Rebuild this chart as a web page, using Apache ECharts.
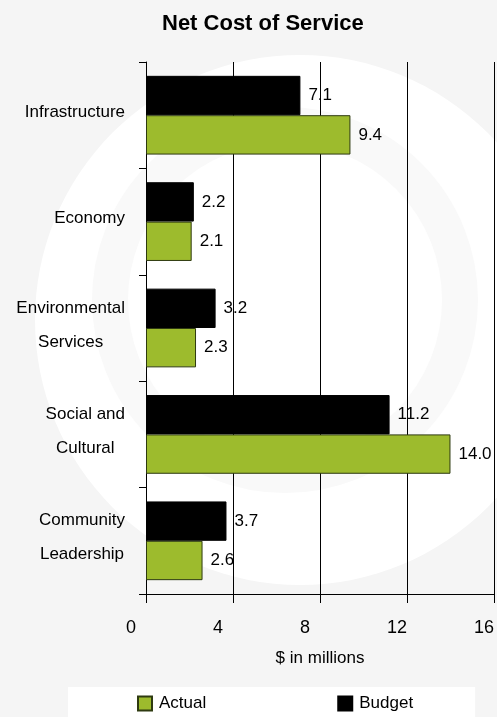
<!DOCTYPE html>
<html>
<head>
<meta charset="utf-8">
<script src="https://cdn.jsdelivr.net/npm/echarts@6/dist/echarts.min.js"></script>
<style>
  html, body { margin: 0; padding: 0; background: #f5f5f5; }
  #chart { width: 497px; height: 717px; }
</style>
</head>
<body>
<div id="chart"></div>
<script>
// Net cost of service by program area, $ millions
const categories = ['Infrastructure', 'Economy', 'Environmental\nServices', 'Social and\nCultural', 'Community\nLeadership'];
const budget = [7.1, 2.2, 3.2, 11.2, 3.7];
const actual = [9.4, 2.1, 2.3, 14.0, 2.6];
const axisMin = 0;
const axisMax = 16;
const axisStep = 4;

const FONT = '"Liberation Sans", Arial, sans-serif';
const GREEN = '#9dbb2d';

const chart = echarts.init(document.getElementById('chart'), null, { renderer: 'canvas' });

const valueLabel = {
  show: true,
  position: 'right',
  distance: 8,
  color: '#000',
  fontFamily: FONT,
  fontSize: 17,
  formatter: p => p.value.toFixed(1)
};

chart.setOption({
  backgroundColor: '#f5f5f5',
  animation: false,
  textStyle: { fontFamily: FONT },
  // faint watermark swirl behind the chart
  graphic: [
    { type: 'circle', z: -10, silent: true, shape: { cx: 300, cy: 320, r: 265 }, style: { fill: '#ffffff' } },
    { type: 'circle', z: -9, silent: true, shape: { cx: 285, cy: 300, r: 175 }, style: { fill: 'none', stroke: '#f9f9f9', lineWidth: 36 } }
  ],
  title: {
    text: 'Net Cost of Service',
    left: 162,
    top: 13,
    padding: 0,
    textStyle: { fontFamily: FONT, fontSize: 22, fontWeight: 'bold', color: '#000' }
  },
  legend: {
    data: ['Actual', 'Budget'],
    left: 68,
    top: 687,
    padding: [8, 62, 12, 69],
    backgroundColor: '#ffffff',
    icon: 'rect',
    itemWidth: 14,
    itemHeight: 14,
    itemGap: 131,
    textStyle: { fontFamily: FONT, fontSize: 17, color: '#000', padding: [0, 0, 0, 2] }
  },
  grid: { left: 146, right: 1, top: 62, bottom: 123 },
  xAxis: {
    type: 'value',
    min: axisMin,
    max: axisMax,
    interval: axisStep,
    name: '$ in millions',
    nameLocation: 'middle',
    nameGap: 56,
    nameTextStyle: { fontFamily: FONT, fontSize: 17, color: '#000' },
    axisLine: { show: true, lineStyle: { color: '#000', width: 1 } },
    axisTick: { show: true, length: 9, lineStyle: { color: '#000', width: 1 } },
    splitLine: { show: true, lineStyle: { color: '#000', width: 1 } },
    axisLabel: {
      margin: 25,
      align: 'right',
      color: '#000',
      fontFamily: FONT,
      fontSize: 18,
      formatter: v => '{t|' + v + '}',
      rich: { t: { width: 20, align: 'left', fontFamily: FONT, fontSize: 18, color: '#000' } }
    }
  },
  yAxis: {
    type: 'category',
    inverse: true,
    data: categories,
    axisLine: { show: true, lineStyle: { color: '#000', width: 1 } },
    axisTick: { show: true, length: 7, lineStyle: { color: '#000', width: 1 } },
    splitLine: { show: false },
    axisLabel: {
      margin: 21,
      align: 'right',
      color: '#000',
      padding: [0, 0, 6, 0],
      formatter: v => v.split('\n').map(s => '{c|' + s + '}').join('\n'),
      rich: { c: { align: 'center', fontFamily: FONT, fontSize: 17, lineHeight: 34, color: '#000' } }
    }
  },
  series: [
    {
      name: 'Budget',
      type: 'bar',
      data: budget,
      barGap: '0%',
      barCategoryGap: '26%',
      itemStyle: { color: '#000000', borderColor: '#000000', borderWidth: 1 },
      label: valueLabel
    },
    {
      name: 'Actual',
      type: 'bar',
      data: actual,
      barGap: '0%',
      barCategoryGap: '26%',
      itemStyle: { color: GREEN, borderColor: '#2e3a10', borderWidth: 1 },
      label: valueLabel
    }
  ]
});
</script>
</body>
</html>
